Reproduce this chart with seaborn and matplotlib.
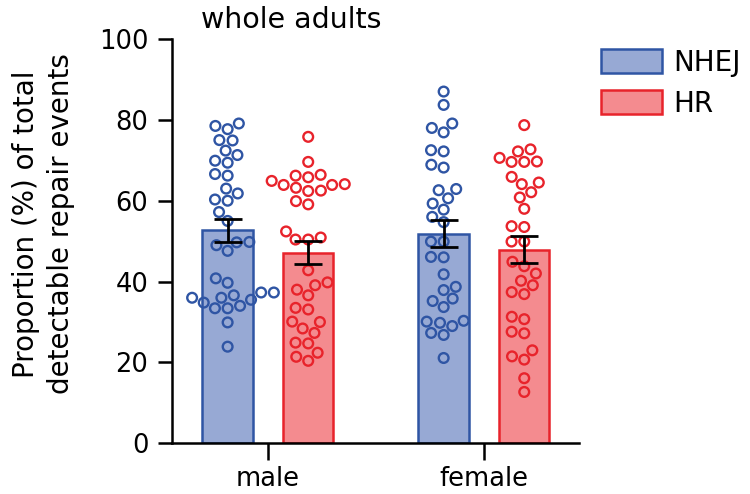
import numpy as np
import pandas as pd
import matplotlib
matplotlib.use("Agg")
import matplotlib.pyplot as plt
import matplotlib.transforms as mtransforms
import seaborn as sns

# ---------------- data ----------------
groups = ["male", "female"]
repair_types = ["NHEJ", "HR"]

male_nhej = [78.5, 79.1, 77.7, 75.0, 74.9, 72.4, 71.3, 69.9, 69.4, 66.2, 66.6, 63.0,
             61.8, 60.0, 60.3, 57.2, 55.0, 49.0, 49.7, 49.8, 47.6, 40.8, 39.7, 36.0,
             36.6, 36.0, 35.5, 37.3, 37.3, 34.0, 33.4, 33.4, 34.8, 29.9, 23.9]
male_hr = [75.8, 69.6, 65.8, 66.4, 66.2, 63.9, 63.2, 64.9, 62.5, 62.4, 64.1, 63.9,
           59.9, 59.1, 52.4, 50.4, 50.4, 50.9, 42.8, 39.8, 39.1, 38.0, 36.6, 33.1,
           33.5, 30.0, 30.1, 28.4, 27.3, 24.9, 24.7, 22.4, 21.4, 20.4]
female_nhej = [87.0, 83.7, 79.1, 76.9, 78.0, 72.2, 72.5, 68.9, 68.2, 62.6, 62.9, 59.3,
               60.6, 57.8, 56.0, 54.7, 49.9, 49.9, 46.0, 46.1, 41.8, 37.9, 38.7, 35.8,
               35.2, 33.7, 30.3, 29.8, 30.1, 29.0, 27.3, 26.8, 21.1]
female_hr = [78.7, 72.7, 72.2, 69.7, 69.6, 69.6, 70.6, 65.9, 64.1, 64.5, 62.1, 60.8,
             58.0, 53.7, 53.5, 49.9, 49.9, 44.9, 43.8, 42.0, 40.2, 39.1, 37.4, 36.9,
             30.7, 31.3, 27.2, 27.6, 23.0, 20.7, 21.5, 16.1, 12.7]

y_ticks = [0, 20, 40, 60, 80, 100]

fill_colors = {"NHEJ": "#97A9D4", "HR": "#F48B8F"}
edge_colors = {"NHEJ": "#2F55A4", "HR": "#E8232B"}

rows = []
for g, t, vals in [("male", "NHEJ", male_nhej), ("male", "HR", male_hr),
                   ("female", "NHEJ", female_nhej), ("female", "HR", female_hr)]:
    for v in vals:
        rows.append({"sex": g, "type": t, "value": v})
df = pd.DataFrame(rows)

# ---------------- figure ----------------
sns.set_theme(style="ticks")
plt.rcParams["font.family"] = ["DejaVu Sans"]
plt.rcParams["text.color"] = "black"
plt.rcParams["xtick.color"] = "black"
plt.rcParams["ytick.color"] = "black"

fig = plt.figure(figsize=(7.5, 4.94), dpi=100)
ax = fig.add_axes([172 / 750, 50.7 / 494, 407 / 750, 404.3 / 494])

bar_width = 0.746
sns.barplot(data=df, x="sex", y="value", hue="type", order=groups,
            hue_order=repair_types, palette=fill_colors, saturation=1,
            errorbar="se", capsize=0.26, width=bar_width, gap=0.373, linewidth=1.8,
            err_kws={"color": "black", "linewidth": 2.0}, ax=ax, legend=False)

for cont, t in zip(ax.containers, repair_types):
    for p in cont:
        p.set_facecolor(fill_colors[t])
        p.set_edgecolor(edge_colors[t])
        p.set_linewidth(1.8)
        p.set_zorder(1)

for ln in ax.lines:
    ln.set_zorder(4)
    ln.set_solid_capstyle("butt")

n_before = len(ax.collections)
sns.swarmplot(data=df, x="sex", y="value", hue="type", order=groups,
              hue_order=repair_types, palette=edge_colors, dodge=True,
              size=7.0, linewidth=1.5, ax=ax, legend=False)

target_off = bar_width / 4
dodge_off = 0.2
edge_rgb = {t: np.array(matplotlib.colors.to_rgb(c)) for t, c in edge_colors.items()}
for coll in ax.collections[n_before:]:
    fc = coll.get_facecolors()
    if len(fc) == 0:
        continue
    rgb = fc[0][:3]
    t = min(edge_rgb, key=lambda k: np.abs(edge_rgb[k] - rgb).sum())
    coll.set_edgecolors(edge_colors[t])
    coll.set_facecolors("none")
    coll.set_linewidths(1.7)
    coll.set_zorder(3)
    dx = (dodge_off - target_off) if t == "NHEJ" else -(dodge_off - target_off)
    coll.set_offset_transform(mtransforms.Affine2D().translate(dx, 0) + ax.transData)

ax.set_ylim(0, 100)
ax.set_xlim(-0.444, 1.44)
ax.set_yticks(y_ticks)
ax.set_xlabel("")
ax.set_ylabel("")

for side in ["top", "right"]:
    ax.spines[side].set_visible(False)
for side in ["left", "bottom"]:
    ax.spines[side].set_linewidth(1.8)
    ax.spines[side].set_color("black")

ax.tick_params(axis="y", length=10, width=1.8, labelsize=18.5, pad=7,
               colors="black", labelcolor="black")
ax.tick_params(axis="x", length=12, width=1.8, labelsize=18.5, pad=4,
               colors="black", labelcolor="black")

fig.text(201 / 750, 1 - 28 / 494, "whole adults", fontsize=20.5,
         ha="left", va="baseline", color="black")

fig.text(43.5 / 750, 1 - 224 / 494, "Proportion (%) of total\ndetectable repair events",
         rotation=90, ha="center", va="center", multialignment="center",
         fontsize=20, linespacing=1.35, color="black")

handles = [ax.containers[0][0], ax.containers[1][0]]
fig.legend(handles, repair_types, loc="upper left",
           bbox_to_anchor=(601 / 750, 1 - 49 / 494), frameon=False, fontsize=20,
           handlelength=2.2, handleheight=0.95, handletextpad=0.4,
           borderpad=0, borderaxespad=0, labelspacing=0.45, labelcolor="black")

fig.savefig("out.png", dpi=100)
